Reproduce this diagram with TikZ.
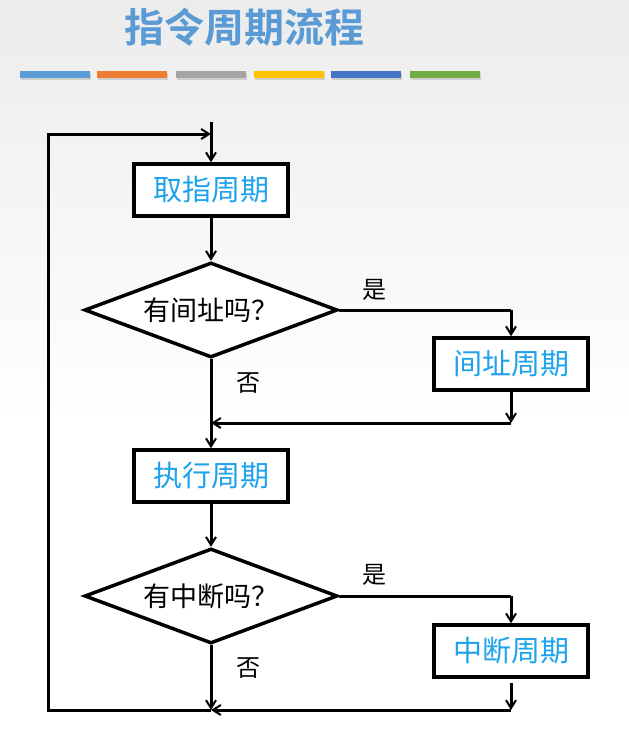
\documentclass[tikz,border=0pt]{standalone}
\usepackage{fontspec}
\usetikzlibrary{arrows.meta,shapes.geometric,shadows}
\newfontfamily\cjk{Noto Sans CJK SC}
\newfontfamily\cjkb{Noto Sans CJK SC}[BoldFont={* Bold}]
\definecolor{titleblue}{RGB}{91,155,213}
\definecolor{boxtext}{RGB}{30,162,236}
\definecolor{barA}{RGB}{91,155,213}
\definecolor{barB}{RGB}{237,125,49}
\definecolor{barC}{RGB}{165,165,165}
\definecolor{barD}{RGB}{255,192,0}
\definecolor{barE}{RGB}{68,114,196}
\definecolor{barF}{RGB}{112,173,71}
\definecolor{bgtop}{RGB}{236,236,236}
\begin{document}
\begin{tikzpicture}[x=1pt,y=-1pt,
  stepbox/.style={draw=black,line width=3.5pt,fill=white,minimum width=154pt,minimum height=52pt,inner sep=0pt,font=\cjk\fontsize{29}{30}\selectfont,text=boxtext},
  decision/.style={draw=black,line width=3.5pt,fill=white,diamond,aspect=2.66,minimum width=253pt,minimum height=95pt,inner sep=0pt,font=\cjk\fontsize{27}{28}\selectfont},
  lbl/.style={font=\cjk\fontsize{24}{25}\selectfont},
  conn/.style={line width=3pt},
  arr/.style={conn,-{Straight Barb[length=8pt,width=10pt,line width=2pt]}},
  bar/.style={minimum width=70pt,minimum height=7pt,inner sep=0pt,drop shadow={shadow xshift=1pt,shadow yshift=-2pt,opacity=0.3}}
]
\useasboundingbox (0,0) rectangle (629,750);
\shade[top color=bgtop,bottom color=white] (0,0) rectangle (629,420);
\fill[white] (0,420) rectangle (629,750);

\node[font=\cjkb\bfseries\fontsize{40}{42}\selectfont,text=titleblue] (title) at (244,27) {指令周期流程};

\node[bar,fill=barA] (b1) at (55,74) {};
\node[bar,fill=barB] (b2) at (132,74) {};
\node[bar,fill=barC] (b3) at (211,74) {};
\node[bar,fill=barD] (b4) at (289,74) {};
\node[bar,fill=barE] (b5) at (366,74) {};
\node[bar,fill=barF] (b6) at (445,74) {};

\coordinate (start) at (211,122);
\coordinate (loopin) at (211,134);
\node[stepbox] (fetch) at (211,190) {取指周期};
\node[decision] (q1) at (211,310) {有间址吗？};
\node[stepbox] (ind) at (511,364) {间址周期};
\coordinate (q1r) at (511,310);
\coordinate (indout) at (511,392);
\coordinate (m1r) at (511,423);
\coordinate (m1) at (211,423);
\node[stepbox] (exec) at (211,476) {执行周期};
\node[decision] (q2) at (211,596) {有中断吗？};
\node[stepbox] (intr) at (511,651) {中断周期};
\coordinate (q2r) at (511,596);
\coordinate (intout) at (511,683);
\coordinate (m2r) at (511,710);
\coordinate (m2) at (211,710);
\coordinate (ll) at (48,710);
\coordinate (lu) at (48,134);

\node[lbl] (yes1) at (374,290) {是};
\node[lbl] (no1) at (248,383) {否};
\node[lbl] (yes2) at (374,575) {是};
\node[lbl] (no2) at (248,668) {否};

\draw[arr] (start) -- (fetch.north);
\draw[arr] (fetch.south) -- (q1.north);
\draw[conn] (q1.east) -- (q1r);
\draw[arr] (q1r) -- (ind.north);
\draw[arr] (indout) -- (m1r);
\draw[arr] (m1r) -- (m1);
\draw[arr] (q1.south) -- (exec.north);
\draw[arr] ([yshift=3pt]exec.south) -- (q2.north);
\draw[conn] (q2.east) -- (q2r);
\draw[arr] (q2r) -- (intr.north);
\draw[arr] (intout) -- (m2r);
\draw[arr] (m2r) -- (m2);
\draw[arr] (q2.south) -- (m2);
\draw[arr,line join=miter] (m2) -- (ll) -- (lu) -- (loopin);
\end{tikzpicture}
\end{document}
